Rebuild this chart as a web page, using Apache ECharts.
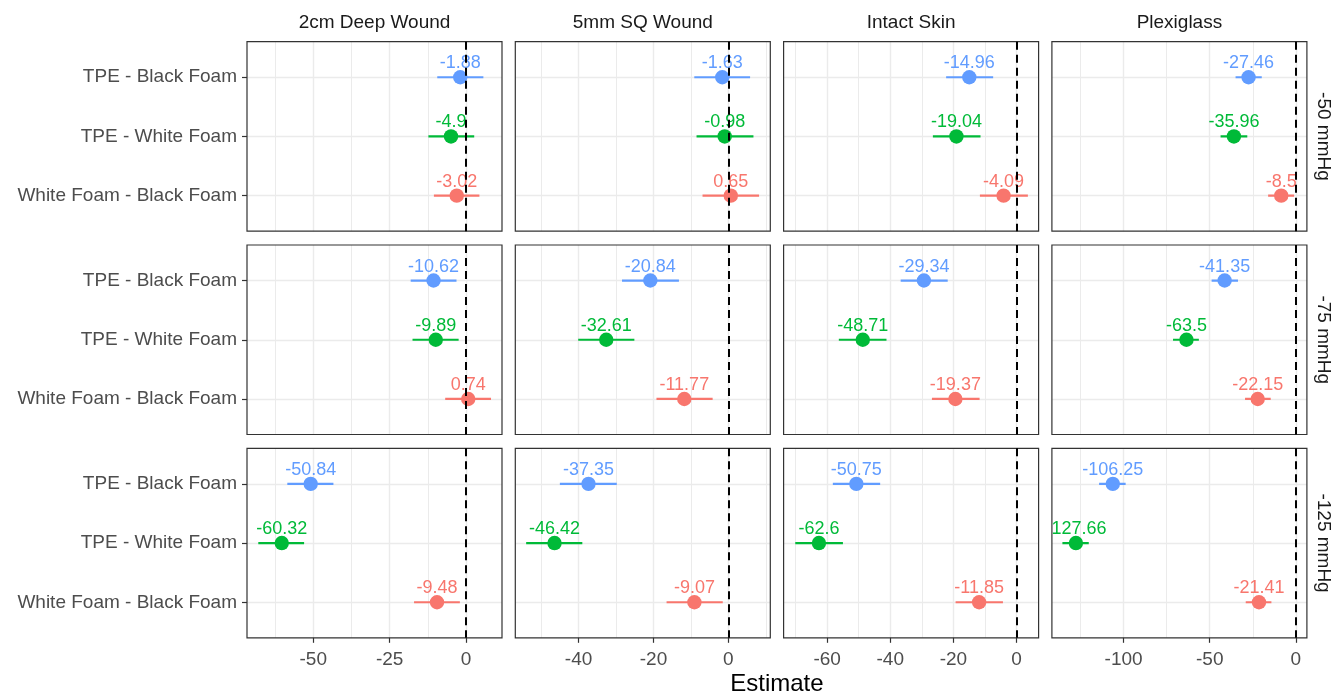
<!DOCTYPE html>
<html>
<head>
<meta charset="utf-8">
<title>Estimate by surface and pressure</title>
<script src="https://cdn.jsdelivr.net/npm/echarts@6/dist/echarts.min.js"></script>
<style>
  html, body { margin: 0; padding: 0; background: #fff; }
  #main { width: 1335px; height: 695px; }
</style>
</head>
<body>
<div id="main"></div>
<script>
// facet labels
const surfaces = ['2cm Deep Wound', '5mm SQ Wound', 'Intact Skin', 'Plexiglass'];
const pressures = ['-50 mmHg', '-75 mmHg', '-125 mmHg'];
const contrasts = ['TPE - Black Foam', 'TPE - White Foam', 'White Foam - Black Foam'];
const contrastColors = ['#619CFF', '#00BA38', '#F8766D'];

// one row per surface, values in contrast order
const est50 = [[-1.88, -4.9, -3.02], [-1.63, -0.98, 0.65], [-14.96, -19.04, -4.09], [-27.46, -35.96, -8.5]];
const lo50 = [[-9.4, -12.3, -10.5], [-9.1, -8.5, -6.9], [-22.3, -26.5, -11.6], [-35.0, -43.7, -16.1]];
const hi50 = [[5.7, 2.7, 4.4], [5.8, 6.7, 8.2], [-7.4, -11.4, 3.6], [-19.8, -28.2, -1.0]];

const est75 = [[-10.62, -9.89, 0.74], [-20.84, -32.61, -11.77], [-29.34, -48.71, -19.37], [-41.35, -63.5, -22.15]];
const lo75 = [[-18.1, -17.5, -6.8], [-28.4, -40.1, -19.2], [-36.7, -56.3, -26.8], [-48.9, -71.3, -29.5]];
const hi75 = [[-3.1, -2.4, 8.2], [-13.2, -25.1, -4.2], [-21.8, -41.2, -11.7], [-33.6, -56.3, -14.6]];

const est125 = [[-50.84, -60.32, -9.48], [-37.35, -46.42, -9.07], [-50.75, -62.6, -11.85], [-106.25, -127.66, -21.41]];
const lo125 = [[-58.5, -68.0, -17.0], [-45.0, -54.0, -16.5], [-58.2, -70.1, -19.3], [-114.2, -135.5, -29.1]];
const hi125 = [[-43.4, -53.0, -2.0], [-29.8, -39.0, -1.5], [-43.2, -55.0, -4.3], [-98.8, -120.2, -14.2]];

// x scale per surface (free scales by column)
const xMin = [-71.7, -56.9, -73.8, -141.6];
const xMax = [11.8, 11.2, 7.0, 6.4];
const majorTicks = [[-50, -25, 0], [-40, -20, 0], [-60, -40, -20, 0], [-100, -50, 0]];
const minorTicks = [[-62.5, -37.5, -12.5], [-50, -30, -10, 10], [-70, -50, -30, -10], [-125, -75, -25]];

const estimates = [est50, est75, est125];
const lowers = [lo50, lo75, lo125];
const uppers = [hi50, hi75, hi125];

// panel layout
const FONT = '"Liberation Sans", Arial, sans-serif';
const left0 = 247, colStep = 268.3, panelW = 255;
const top0 = 41.7, rowStep = 203.3, panelH = 189.5;

function renderEstimate(params, api) {
  const i = api.value(1);
  const color = contrastColors[i];
  const p = api.coord([api.value(0), i]);
  const a = api.coord([api.value(2), i]);
  const b = api.coord([api.value(3), i]);
  return {
    type: 'group',
    children: [
      { type: 'line', shape: { x1: a[0], y1: a[1], x2: b[0], y2: b[1] }, style: { stroke: color, lineWidth: 2.2 } },
      { type: 'circle', shape: { cx: p[0], cy: p[1], r: 7.2 }, style: { fill: color } },
      {
        type: 'text', x: p[0], y: p[1] - 14,
        style: { text: String(api.value(0)), fill: color, font: '18px ' + FONT, align: 'center', verticalAlign: 'middle' }
      }
    ]
  };
}

const grid = [], xAxis = [], yAxis = [], series = [], graphic = [];

pressures.forEach((pressure, r) => {
  surfaces.forEach((surface, c) => {
    const k = grid.length;
    const bottomRow = r === pressures.length - 1;
    const firstCol = c === 0;
    grid.push({
      left: left0 + c * colStep, top: top0 + r * rowStep, width: panelW, height: panelH,
      show: true, borderColor: '#333', borderWidth: 1.2, backgroundColor: 'transparent',
      z: 4, outerBoundsMode: 'none'
    });
    // major grid, ticks, labels
    xAxis.push({
      type: 'value', gridIndex: k, min: xMin[c], max: xMax[c],
      axisLine: { show: false, onZero: false },
      axisTick: { show: bottomRow, length: 5, lineStyle: { color: '#333', width: 1.2 }, customValues: majorTicks[c] },
      axisLabel: { show: bottomRow, customValues: majorTicks[c], color: '#4d4d4d', fontSize: 19, fontFamily: FONT, margin: 12 },
      splitLine: { show: true, lineStyle: { color: '#ebebeb', width: 1.4 } }
    });
    // minor grid lines only
    xAxis.push({
      type: 'value', gridIndex: k, min: xMin[c], max: xMax[c],
      axisLine: { show: false, onZero: false },
      axisTick: { show: false, customValues: minorTicks[c] },
      axisLabel: { show: false },
      splitLine: { show: true, lineStyle: { color: '#ebebeb', width: 1 } }
    });
    yAxis.push({
      type: 'value', gridIndex: k, min: -0.6, max: 2.6, inverse: true,
      axisLine: { show: false, onZero: false },
      axisTick: { show: firstCol, length: 5, lineStyle: { color: '#333', width: 1.2 }, customValues: [0, 1, 2] },
      axisLabel: {
        show: firstCol, customValues: [0, 1, 2], color: '#4d4d4d', fontSize: 19, fontFamily: FONT, margin: 10,
        formatter: v => contrasts[Math.round(v)]
      },
      splitLine: { show: true, lineStyle: { color: '#ebebeb', width: 1.4 } }
    });
    series.push({
      type: 'custom', xAxisIndex: 2 * k, yAxisIndex: k, clip: true, z: 3,
      renderItem: renderEstimate,
      encode: { x: 0, y: 1 },
      data: estimates[r][c].map((v, i) => [v, i, lowers[r][c][i], uppers[r][c][i]])
    });
    // dashed reference line at zero
    series.push({
      type: 'scatter', xAxisIndex: 2 * k, yAxisIndex: k, data: [], z: 6,
      markLine: {
        silent: true, symbol: ['none', 'none'], label: { show: false },
        lineStyle: { color: '#000', type: [8, 5], width: 2 },
        data: [{ xAxis: 0 }]
      }
    });
  });
});

// strip labels
surfaces.forEach((s, c) => {
  graphic.push({
    type: 'text', x: left0 + c * colStep + panelW / 2, y: 23,
    style: { text: s, font: '19px ' + FONT, fill: '#1a1a1a', align: 'center', verticalAlign: 'middle' }
  });
});
pressures.forEach((p, r) => {
  graphic.push({
    type: 'text', x: 1323, y: top0 + r * rowStep + panelH / 2, rotation: -Math.PI / 2,
    style: { text: p, font: '19px ' + FONT, fill: '#1a1a1a', align: 'center', verticalAlign: 'middle' }
  });
});
graphic.push({
  type: 'text', x: left0 + (3 * colStep + panelW) / 2, y: 684,
  style: { text: 'Estimate', font: '24px ' + FONT, fill: '#000', align: 'center', verticalAlign: 'middle' }
});

const chart = echarts.init(document.getElementById('main'));
chart.setOption({
  animation: false,
  backgroundColor: '#fff',
  grid, xAxis, yAxis, series, graphic
});
</script>
</body>
</html>
